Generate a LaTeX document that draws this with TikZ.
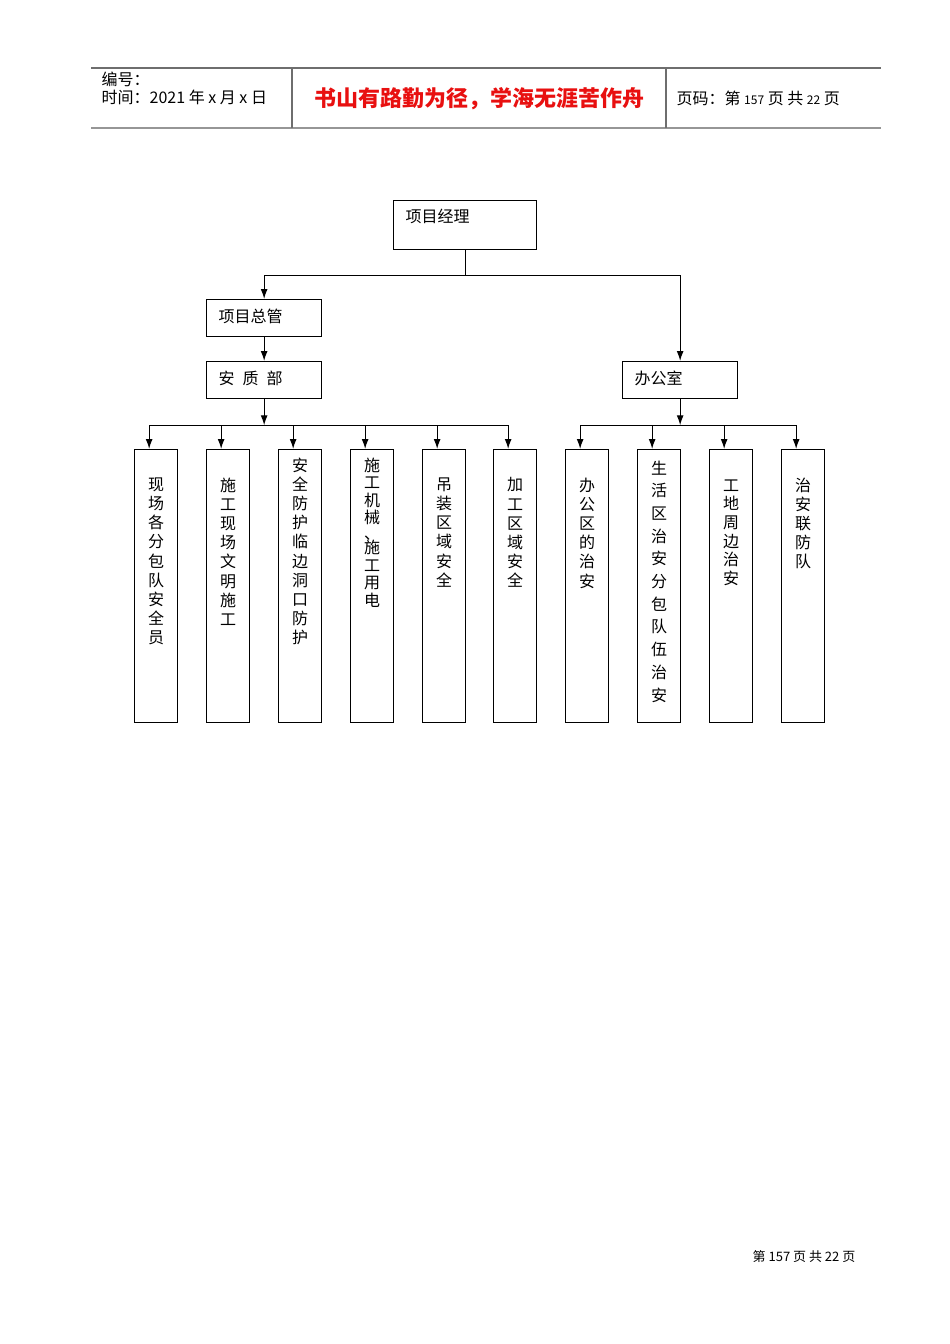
\documentclass[tikz,border=0pt]{standalone}
\usepackage{fontspec}
\setmainfont{Noto Sans CJK SC}
\usetikzlibrary{arrows.meta,positioning}
\definecolor{hdrline}{RGB}{110,110,110}
\definecolor{hdrlow}{RGB}{150,150,150}
\definecolor{titlered}{RGB}{232,16,16}
\tikzset{
	box/.style={
		draw, line width=1.3pt, inner sep=0pt, anchor=north west
	},
	topbox/.style={
		box, inner xsep=12pt, align=left,
		font={\fontsize{16}{19}\selectfont}
	},
	colbox/.style={box, minimum width=43pt, minimum height=273pt},
	coltext/.style={
		inner sep=0pt, align=center,
		font={\fontsize{16}{19.2}\selectfont}
	},
	hdr/.style={inner sep=0pt, anchor=west, font={\fontsize{16}{18}\selectfont}},
	>={Latex[length=10pt,width=7pt]},
}

\begin{document}
\begin{tikzpicture}[x=1pt, y=-1pt, line width=1.3pt]
\useasboundingbox (0,0) rectangle (950,1344);
% header table
\draw[hdrline] (91,68) -- (881,68);
\draw[hdrlow, line width=2pt] (91,128) -- (881,128);
\draw[hdrline] (292,68) -- (292,128);
\draw[hdrline] (666,68) -- (666,128);
\node[hdr] (hno) at (101,79) {编号：};
\node[hdr] (htime) at (101,97) {时间：2021 年 x 月 x 日};
\node[inner sep=0pt, text=titlered, font={\fontsize{22}{24}\selectfont\bfseries}] (htitle) at (479,99) {书山有路勤为径，学海无涯苦作舟};
\node[hdr] (hpage) at (676,98) {页码：第 {\fontsize{12}{14}\selectfont 157} 页 共 {\fontsize{12}{14}\selectfont 22} 页};
%
\node[topbox, text width=119pt, text height=22pt, text depth=27pt] (pm) at (393,200) {项目经理};
\node[topbox, text width=91pt, text height=23pt, text depth=14pt] (zg) at (206,299) {项目总管};
\node[topbox, text width=91pt, text height=23pt, text depth=14pt] (azb) at (206,361) {安\hspace{8pt}质\hspace{8pt}部};
\node[topbox, text width=91pt, text height=23pt, text depth=14pt] (bgs) at (622,361) {办公室};
%
\foreach \n/\x in {a1/134,a2/206,a3/278,a4/350,a5/422,a6/493,b1/565,b2/637,b3/709,b4/781}
{
	\node[colbox] (\n) at (\x,449) {};
	\coordinate (\n top) at ([xshift=-7pt]\n.north);
}
\node[coltext, below=28pt of a1.north] (a1t) {现\\场\\各\\分\\包\\队\\安\\全\\员};
\node[coltext, below=28pt of a2.north] (a2t) {施\\工\\现\\场\\文\\明\\施\\工};
\node[coltext, below=8pt of a3.north] (a3t) {安\\全\\防\\护\\临\\边\\洞\\口\\防\\护};
\node[coltext, below=8pt of a4.north, font={\fontsize{16}{17.5}\selectfont}] (a4t) {施\\工\\机\\械\\[-1.5pt]、\\[-3.5pt]施\\工\\用\\电};
\node[coltext, below=28pt of a5.north] (a5t) {吊\\装\\区\\域\\安\\全};
\node[coltext, below=28pt of a6.north] (a6t) {加\\工\\区\\域\\安\\全};
\node[coltext, below=28pt of b1.north] (b1t) {办\\公\\区\\的\\治\\安};
\node[coltext, below=11pt of b2.north, font={\fontsize{16}{22.7}\selectfont}] (b2t) {生\\活\\区\\治\\安\\分\\包\\队\\伍\\治\\安};
\node[coltext, below=30pt of b3.north, font={\fontsize{16}{18.6}\selectfont}] (b3t) {工\\地\\周\\边\\治\\安};
\node[coltext, below=28pt of b4.north] (b4t) {治\\安\\联\\防\\队};
%
\draw (pm.south) -- ++(0,25) coordinate (hub);
\draw (hub -| zg.north) -- (hub -| bgs.north);
\draw[->] (hub -| zg.north) -- (zg.north);
\draw[->] (hub -| bgs.north) -- (bgs.north);
\draw[->] (zg.south) -- (azb.north);
\draw[->] (azb.south) -- ++(0,26) coordinate (busA);
\draw[->] (bgs.south) -- ++(0,26) coordinate (busB);
\draw (a1top |- busA) -- (a6top |- busA);
\draw (b1top |- busB) -- (b4top |- busB);
\foreach \n in {a1,a2,a3,a4,a5,a6}
	\draw[->] (\n top |- busA) -- (\n top);
\foreach \n in {b1,b2,b3,b4}
	\draw[->] (\n top |- busB) -- (\n top);
%
\node[inner sep=0pt, font={\fontsize{13}{15}\selectfont}] (foot) at (804,1257) {第 157 页 共 22 页};
\end{tikzpicture}
\end{document}
